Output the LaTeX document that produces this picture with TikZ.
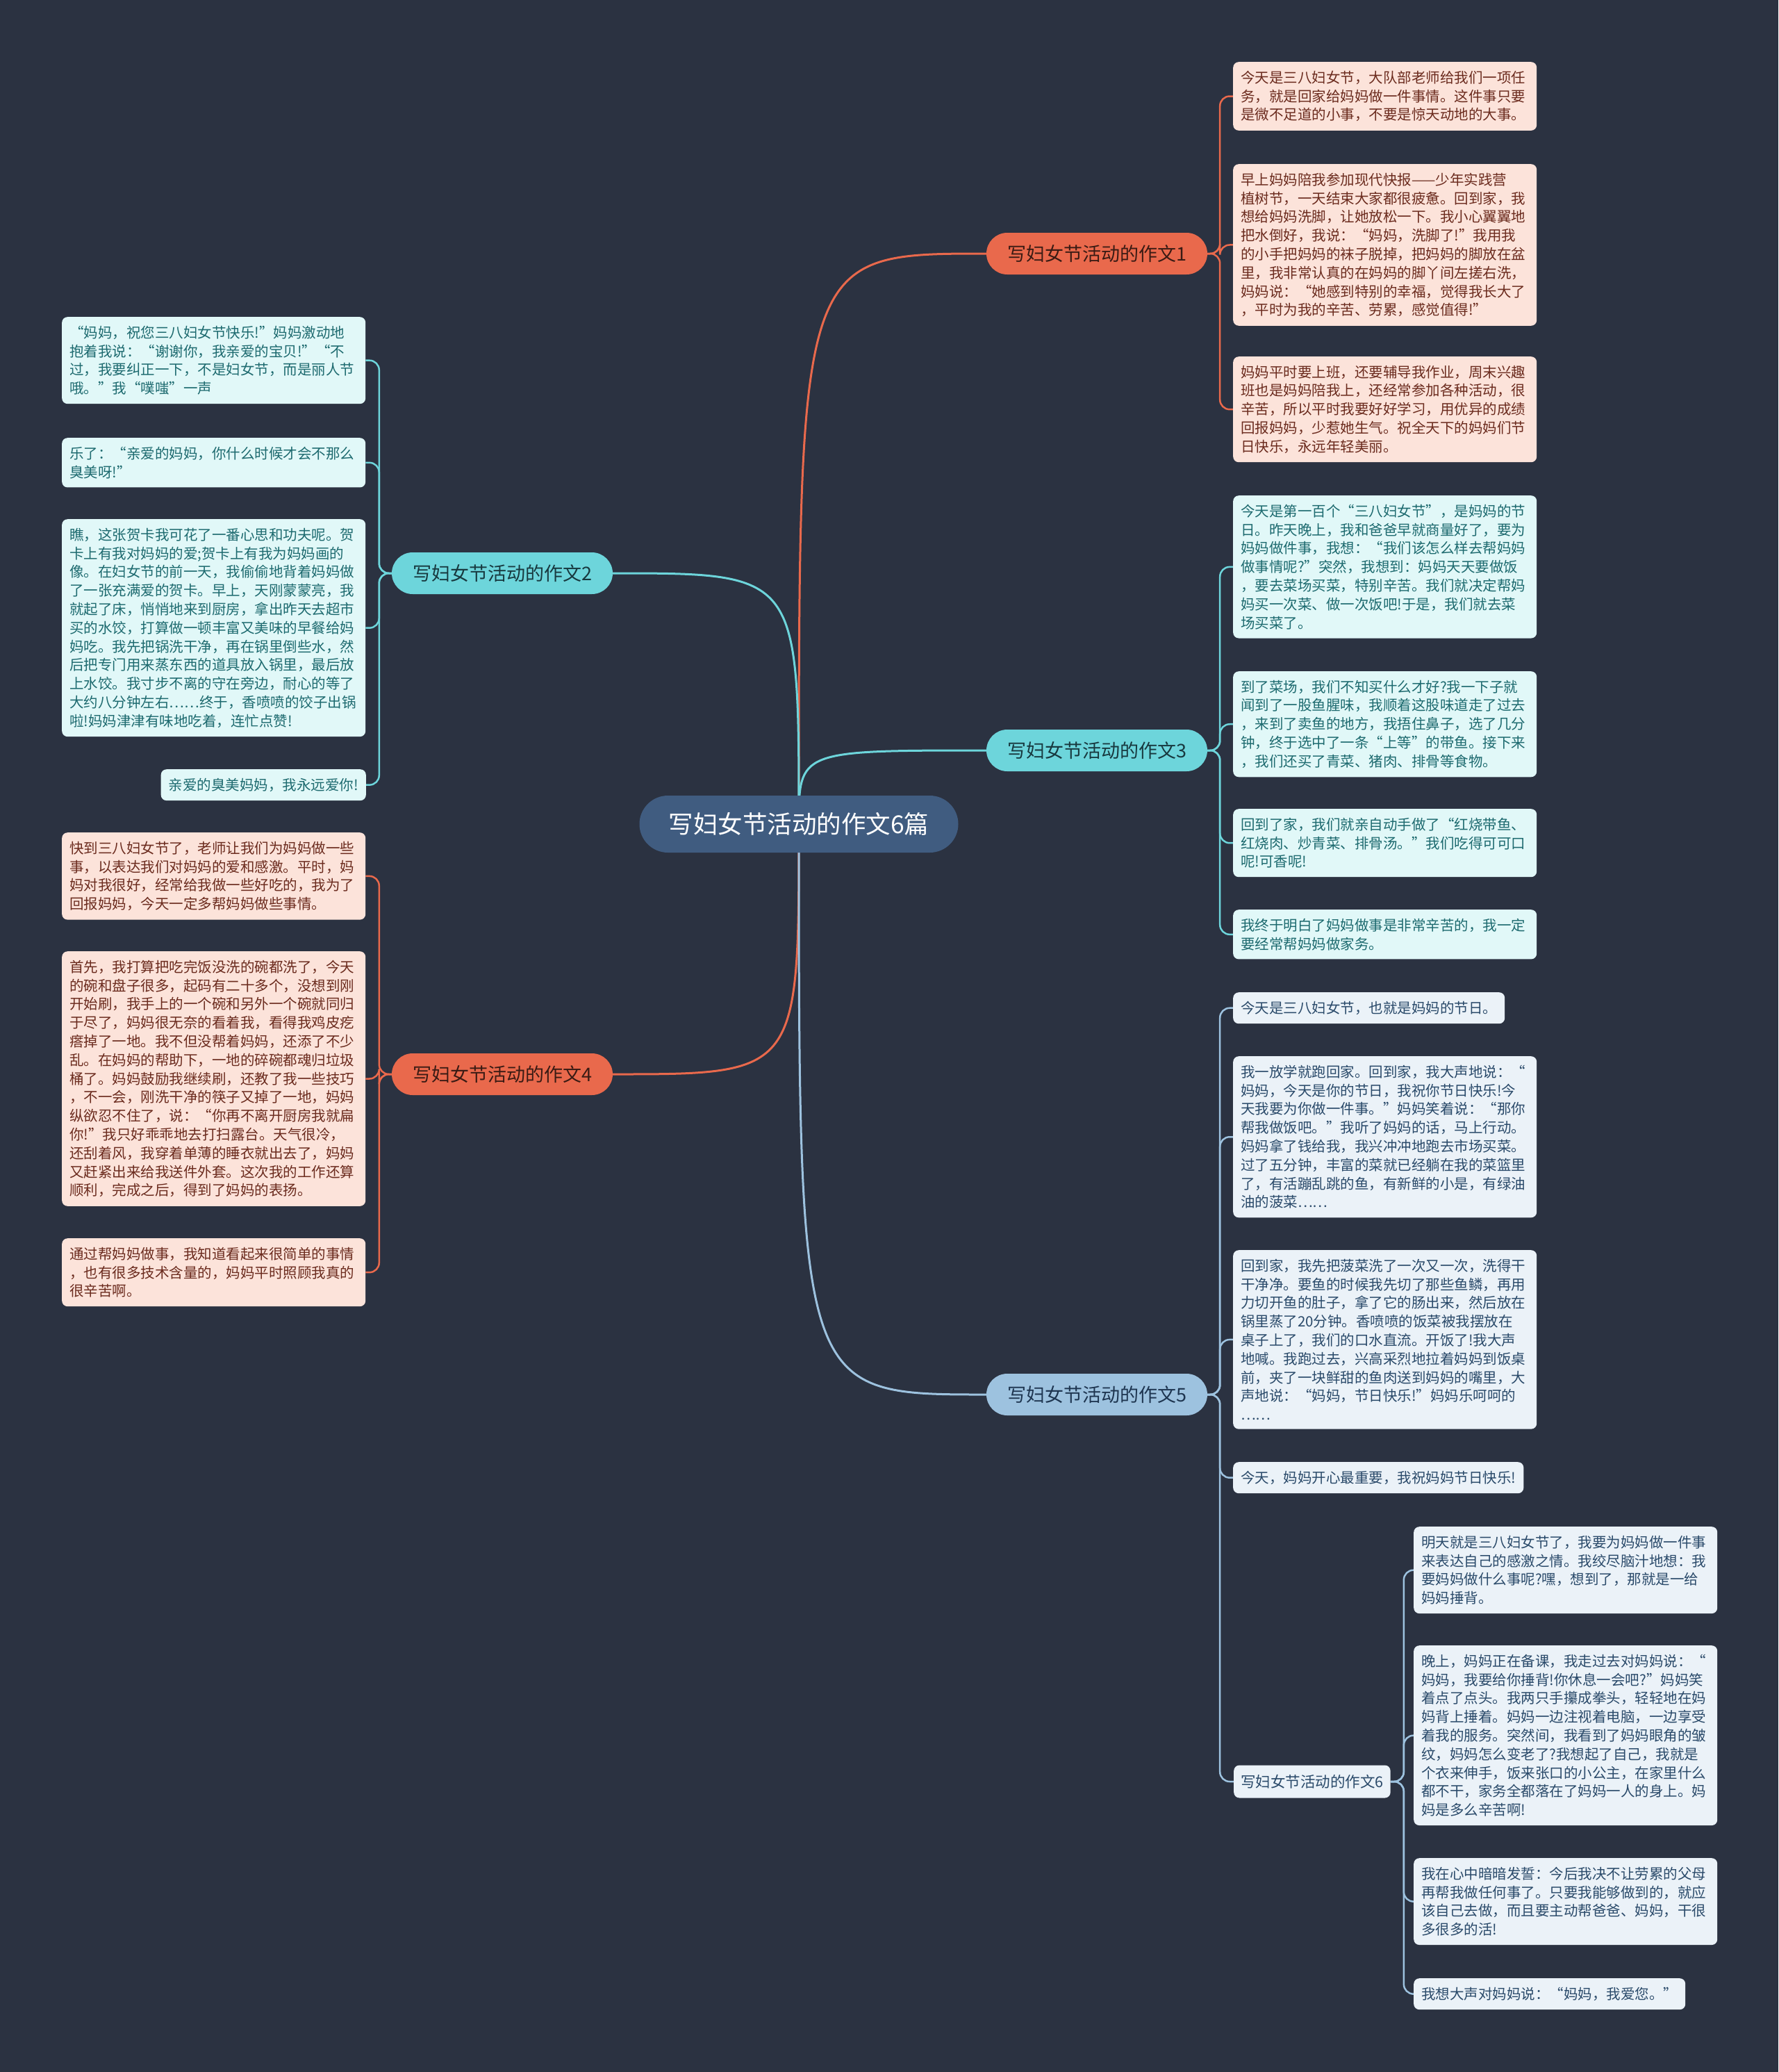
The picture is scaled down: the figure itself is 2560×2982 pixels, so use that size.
\documentclass[tikz,border=0pt]{standalone}
\usepackage{fontspec}
\setmainfont{Noto Sans CJK SC}
\usetikzlibrary{calc}
\pgfdeclarelayer{bglayer}
\pgfdeclarelayer{edgelayer}
\pgfsetlayers{bglayer,edgelayer,main}
\definecolor{bgc}{HTML}{2B3241}
\definecolor{centerc}{HTML}{405C80}
\definecolor{orc}{HTML}{E9694C}
\definecolor{cyc}{HTML}{6DD5DB}
\definecolor{blc}{HTML}{9DC2DF}
\definecolor{orleaf}{HTML}{FCE3DA}
\definecolor{orleaftext}{HTML}{6B2B1E}
\definecolor{cyleaf}{HTML}{E1F8F8}
\definecolor{cyleaftext}{HTML}{1D6A6F}
\definecolor{blleaf}{HTML}{EBF2F8}
\definecolor{blleaftext}{HTML}{2A4A6A}
\definecolor{ortext}{HTML}{3A1B14}
\definecolor{cytext}{HTML}{18393F}
\definecolor{bltext}{HTML}{1E3550}
\newcommand{\leaffont}{\fontsize{20.5}{26.8}\selectfont}
\begin{document}
\begin{tikzpicture}[x=1pt,y=-1pt,
  rootbox/.style={fill=centerc, text=white, rounded corners=41pt, minimum width=459pt, minimum height=82pt, inner sep=0pt, font=\fontsize{35.5}{40}\selectfont},
  branchbox/.style={rounded corners=30pt, minimum width=318pt, minimum height=60pt, inner sep=0pt, font=\fontsize{27}{32}\selectfont},
  orbranch/.style={branchbox, fill=orc, text=ortext},
  cybranch/.style={branchbox, fill=cyc, text=cytext},
  blbranch/.style={branchbox, fill=blc, text=bltext},
  subbranch/.style={fill=blleaf, text=blleaftext, rounded corners=8pt, minimum height=47pt, minimum width=220pt, inner xsep=10pt, inner ysep=0pt, anchor=west, font=\fontsize{21.5}{26}\selectfont},
  leafbase/.style={rounded corners=8pt, inner xsep=11pt, inner ysep=12.7pt, align=left, anchor=north west, font=\leaffont},
  leafmulti/.style={leafbase, text width=415pt},
  orleafbox/.style={leafmulti, fill=orleaf, text=orleaftext},
  cyleafbox/.style={leafmulti, fill=cyleaf, text=cyleaftext},
  blleafbox/.style={leafmulti, fill=blleaf, text=blleaftext},
  cyleafone/.style={leafbase, fill=cyleaf, text=cyleaftext},
  blleafone/.style={leafbase, fill=blleaf, text=blleaftext},
  mainline/.style={line width=3pt},
  leafline/.style={line width=2.5pt, rounded corners=14pt}
]
\begin{pgfonlayer}{bglayer}
\fill[bgc] (0,0) rectangle (2560,2982);
\end{pgfonlayer}
\useasboundingbox (0,0) rectangle (2560,2982);

% root and branches
\node[rootbox] (root) at (1150,1186) {写妇女节活动的作文6篇};
\node[orbranch] (b1) at (1579,365) {写妇女节活动的作文1};
\node[cybranch] (b2) at (723,825) {写妇女节活动的作文2};
\node[cybranch] (b3) at (1579,1080) {写妇女节活动的作文3};
\node[orbranch] (b4) at (723,1546) {写妇女节活动的作文4};
\node[blbranch] (b5) at (1579,2007) {写妇女节活动的作文5};
\node[subbranch] (b6) at (1776,2564) {写妇女节活动的作文6};

% leaves of 1
\node[orleafbox] (l1a) at (1775,89) {今天是三八妇女节，大队部老师给我们一项任\\务，就是回家给妈妈做一件事情。这件事只要\\是微不足道的小事，不要是惊天动地的大事。};
\node[orleafbox] (l1b) at (1775,236) {早上妈妈陪我参加现代快报——少年实践营\\植树节，一天结束大家都很疲惫。回到家，我\\想给妈妈洗脚，让她放松一下。我小心翼翼地\\把水倒好，我说：“妈妈，洗脚了!”我用我\\的小手把妈妈的袜子脱掉，把妈妈的脚放在盆\\里，我非常认真的在妈妈的脚丫间左搓右洗，\\妈妈说：“她感到特别的幸福，觉得我长大了\\，平时为我的辛苦、劳累，感觉值得!”};
\node[orleafbox] (l1c) at (1775,513) {妈妈平时要上班，还要辅导我作业，周末兴趣\\班也是妈妈陪我上，还经常参加各种活动，很\\辛苦，所以平时我要好好学习，用优异的成绩\\回报妈妈，少惹她生气。祝全天下的妈妈们节\\日快乐，永远年轻美丽。};

% leaves of 3
\node[cyleafbox] (l3a) at (1775,713) {今天是第一百个“三八妇女节”，是妈妈的节\\日。昨天晚上，我和爸爸早就商量好了，要为\\妈妈做件事，我想：“我们该怎么样去帮妈妈\\做事情呢?”突然，我想到：妈妈天天要做饭\\，要去菜场买菜，特别辛苦。我们就决定帮妈\\妈买一次菜、做一次饭吧!于是，我们就去菜\\场买菜了。};
\node[cyleafbox] (l3b) at (1775,966) {到了菜场，我们不知买什么才好?我一下子就\\闻到了一股鱼腥味，我顺着这股味道走了过去\\，来到了卖鱼的地方，我捂住鼻子，选了几分\\钟，终于选中了一条“上等”的带鱼。接下来\\，我们还买了青菜、猪肉、排骨等食物。};
\node[cyleafbox] (l3c) at (1775,1164) {回到了家，我们就亲自动手做了“红烧带鱼、\\红烧肉、炒青菜、排骨汤。”我们吃得可可口\\呢!可香呢!};
\node[cyleafbox] (l3d) at (1775,1309) {我终于明白了妈妈做事是非常辛苦的，我一定\\要经常帮妈妈做家务。};

% leaves of 5
\node[blleafone] (l5a) at (1775,1428) {今天是三八妇女节，也就是妈妈的节日。};
\node[blleafbox] (l5b) at (1775,1520) {我一放学就跑回家。回到家，我大声地说：“\\妈妈，今天是你的节日，我祝你节日快乐!今\\天我要为你做一件事。”妈妈笑着说：“那你\\帮我做饭吧。”我听了妈妈的话，马上行动。\\妈妈拿了钱给我，我兴冲冲地跑去市场买菜。\\过了五分钟，丰富的菜就已经躺在我的菜篮里\\了，有活蹦乱跳的鱼，有新鲜的小是，有绿油\\油的菠菜……};
\node[blleafbox] (l5c) at (1775,1799) {回到家，我先把菠菜洗了一次又一次，洗得干\\干净净。要鱼的时候我先切了那些鱼鳞，再用\\力切开鱼的肚子，拿了它的肠出来，然后放在\\锅里蒸了20分钟。香喷喷的饭菜被我摆放在\\桌子上了，我们的口水直流。开饭了!我大声\\地喊。我跑过去，兴高采烈地拉着妈妈到饭桌\\前，夹了一块鲜甜的鱼肉送到妈妈的嘴里，大\\声地说：“妈妈，节日快乐!”妈妈乐呵呵的\\……};
\node[blleafone] (l5d) at (1775,2104) {今天，妈妈开心最重要，我祝妈妈节日快乐!};

% leaves of 6
\node[blleafbox] (l6a) at (2035,2197) {明天就是三八妇女节了，我要为妈妈做一件事\\来表达自己的感激之情。我绞尽脑汁地想：我\\要妈妈做什么事呢?嘿，想到了，那就是一给\\妈妈捶背。};
\node[blleafbox] (l6b) at (2035,2368) {晚上，妈妈正在备课，我走过去对妈妈说：“\\妈妈，我要给你捶背!你休息一会吧?”妈妈笑\\着点了点头。我两只手攥成拳头，轻轻地在妈\\妈背上捶着。妈妈一边注视着电脑，一边享受\\着我的服务。突然间，我看到了妈妈眼角的皱\\纹，妈妈怎么变老了?我想起了自己，我就是\\个衣来伸手，饭来张口的小公主，在家里什么\\都不干，家务全都落在了妈妈一人的身上。妈\\妈是多么辛苦啊!};
\node[blleafbox] (l6c) at (2035,2674) {我在心中暗暗发誓：今后我决不让劳累的父母\\再帮我做任何事了。只要我能够做到的，就应\\该自己去做，而且要主动帮爸爸、妈妈，干很\\多很多的活!};
\node[blleafone] (l6d) at (2035,2847) {我想大声对妈妈说：“妈妈，我爱您。”};

% leaves of 2
\node[cyleafbox] (l2a) at (89,456) {“妈妈，祝您三八妇女节快乐!”妈妈激动地\\抱着我说：“谢谢你，我亲爱的宝贝!”“不\\过，我要纠正一下，不是妇女节，而是丽人节\\哦。”我“噗嗤”一声};
\node[cyleafbox] (l2b) at (89,630) {乐了：“亲爱的妈妈，你什么时候才会不那么\\臭美呀!”};
\node[cyleafbox] (l2c) at (89,747) {瞧，这张贺卡我可花了一番心思和功夫呢。贺\\卡上有我对妈妈的爱;贺卡上有我为妈妈画的\\像。在妇女节的前一天，我偷偷地背着妈妈做\\了一张充满爱的贺卡。早上，天刚蒙蒙亮，我\\就起了床，悄悄地来到厨房，拿出昨天去超市\\买的水饺，打算做一顿丰富又美味的早餐给妈\\妈吃。我先把锅洗干净，再在锅里倒些水，然\\后把专门用来蒸东西的道具放入锅里，最后放\\上水饺。我寸步不离的守在旁边，耐心的等了\\大约八分钟左右……终于，香喷喷的饺子出锅\\啦!妈妈津津有味地吃着，连忙点赞!};
\node[cyleafone, anchor=north east] (l2d) at (527,1107) {亲爱的臭美妈妈，我永远爱你!};

% leaves of 4
\node[orleafbox] (l4a) at (89,1198) {快到三八妇女节了，老师让我们为妈妈做一些\\事，以表达我们对妈妈的爱和感激。平时，妈\\妈对我很好，经常给我做一些好吃的，我为了\\回报妈妈，今天一定多帮妈妈做些事情。};
\node[orleafbox] (l4b) at (89,1369) {首先，我打算把吃完饭没洗的碗都洗了，今天\\的碗和盘子很多，起码有二十多个，没想到刚\\开始刷，我手上的一个碗和另外一个碗就同归\\于尽了，妈妈很无奈的看着我，看得我鸡皮疙\\瘩掉了一地。我不但没帮着妈妈，还添了不少\\乱。在妈妈的帮助下，一地的碎碗都魂归垃圾\\桶了。妈妈鼓励我继续刷，还教了我一些技巧\\，不一会，刚洗干净的筷子又掉了一地，妈妈\\纵欲忍不住了，说：“你再不离开厨房我就扁\\你!”我只好乖乖地去打扫露台。天气很冷，\\还刮着风，我穿着单薄的睡衣就出去了，妈妈\\又赶紧出来给我送件外套。这次我的工作还算\\顺利，完成之后，得到了妈妈的表扬。};
\node[orleafbox] (l4c) at (89,1782) {通过帮妈妈做事，我知道看起来很简单的事情\\，也有很多技术含量的，妈妈平时照顾我真的\\很辛苦啊。};

\begin{pgfonlayer}{edgelayer}
% root to branches
\draw[mainline, orc] (root.center) .. controls (root.center |- b1.west) .. (b1.west);
\draw[mainline, cyc] (root.center) .. controls (root.center |- b2.east) .. (b2.east);
\draw[mainline, cyc] (root.center) .. controls (root.center |- b3.west) .. (b3.west);
\draw[mainline, orc] (root.center) .. controls (root.center |- b4.east) .. (b4.east);
\draw[mainline, blc] (root.center) .. controls (root.center |- b5.west) .. (b5.west);
% branch 1
\foreach \l in {l1a,l1b,l1c}
  \draw[leafline, orc] (b1.east) -- ++(18,0) |- (\l.west);
% branch 3
\foreach \l in {l3a,l3b,l3c,l3d}
  \draw[leafline, cyc] (b3.east) -- ++(18,0) |- (\l.west);
% branch 5
\foreach \l in {l5a,l5b,l5c,l5d,b6}
  \draw[leafline, blc] (b5.east) -- ++(18,0) |- (\l.west);
% branch 6
\foreach \l in {l6a,l6b,l6c,l6d}
  \draw[leafline, blc] (b6.east) -- ++(19,0) |- (\l.west);
% branch 2
\foreach \l in {l2a,l2b,l2c,l2d}
  \draw[leafline, cyc] (b2.west) -- ++(-18,0) |- (\l.east);
% branch 4
\foreach \l in {l4a,l4b,l4c}
  \draw[leafline, orc] (b4.west) -- ++(-18,0) |- (\l.east);
\end{pgfonlayer}
\end{tikzpicture}
\end{document}
